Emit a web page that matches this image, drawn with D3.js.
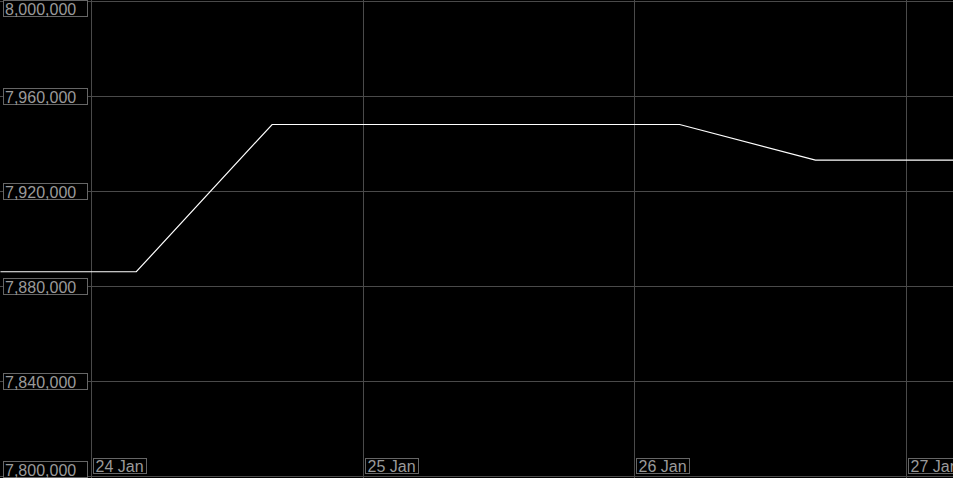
<!DOCTYPE html>
<html><head><meta charset="utf-8">
<script src="https://cdn.jsdelivr.net/npm/d3@7"></script>
<style>html,body{margin:0;padding:0;background:#000;overflow:hidden}</style>
</head><body><svg id="c" width="953" height="478"></svg>
<script>
const times = ["2024-01-23T16:00","2024-01-24T04:00","2024-01-24T16:00","2024-01-25T04:00","2024-01-25T16:00","2024-01-26T04:00","2024-01-26T16:00","2024-01-27T04:10"];
const values = [7886000,7886000,7948000,7948000,7948000,7948000,7933000,7933000];
const yTicks = [7800000,7840000,7880000,7920000,7960000,8000000];
const xTicks = ["2024-01-24T00:00","2024-01-25T00:00","2024-01-26T00:00","2024-01-27T00:00"];
const xTickLabels = ["24 Jan","25 Jan","26 Jan","27 Jan"];

const W = 953, H = 478;
const parse = d3.timeParse("%Y-%m-%dT%H:%M");
const HOUR = 3600e3;
const t0 = parse(xTicks[0]).getTime();
const x = d3.scaleTime().domain([new Date(t0 - 8.04*HOUR), new Date(t0 + 76.15*HOUR)]).range([0, W]);
const y = d3.scaleLinear().domain([7800000, 8000000]).range([476, 1]);

const svg = d3.select("#c");
svg.append("rect").attr("width", W).attr("height", H).attr("fill", "#000");
const grid = "#4a4a4a";
const fmt = d3.format(",");

svg.append("g").selectAll("line").data(yTicks).join("line")
  .attr("x1", 0).attr("x2", W)
  .attr("y1", d => Math.round(y(d)) + 0.5).attr("y2", d => Math.round(y(d)) + 0.5)
  .attr("stroke", grid).attr("stroke-width", 1);
svg.append("g").selectAll("line").data(xTicks).join("line")
  .attr("x1", d => Math.round(x(parse(d))) + 0.5).attr("x2", d => Math.round(x(parse(d))) + 0.5)
  .attr("y1", 0).attr("y2", H)
  .attr("stroke", grid).attr("stroke-width", 1);

const line = d3.line().x((d, i) => x(parse(times[i]))).y(d => y(d));
svg.append("path").datum(values).attr("d", line)
  .attr("fill", "none").attr("stroke", "#fff").attr("stroke-width", 1.2);

const font = "Liberation Sans, Arial, sans-serif";
const yl = svg.append("g").selectAll("g").data(yTicks).join("g")
  .attr("transform", d => {
    let top = Math.round(y(d)) - 8;
    top = Math.max(0, Math.min(H - 17, top));
    return `translate(3.5,${top + 0.5})`;
  });
yl.append("rect").attr("width", 84).attr("height", 16)
  .attr("fill", "#000").attr("stroke", "#666").attr("stroke-width", 1);
yl.append("text").attr("x", 1.5).attr("y", 14).text(d => fmt(d))
  .attr("fill", "#9a9a9a").attr("font-family", font).attr("font-size", 16);

const xl = svg.append("g").selectAll("g").data(xTicks).join("g")
  .attr("transform", d => `translate(${Math.round(x(parse(d))) + 2.5},458.5)`);
xl.append("rect").attr("width", 53).attr("height", 15)
  .attr("fill", "#000").attr("stroke", "#666").attr("stroke-width", 1);
xl.append("text").attr("x", 2).attr("y", 13.5).text((d, i) => xTickLabels[i])
  .attr("fill", "#9a9a9a").attr("font-family", font).attr("font-size", 16);
</script></body></html>
